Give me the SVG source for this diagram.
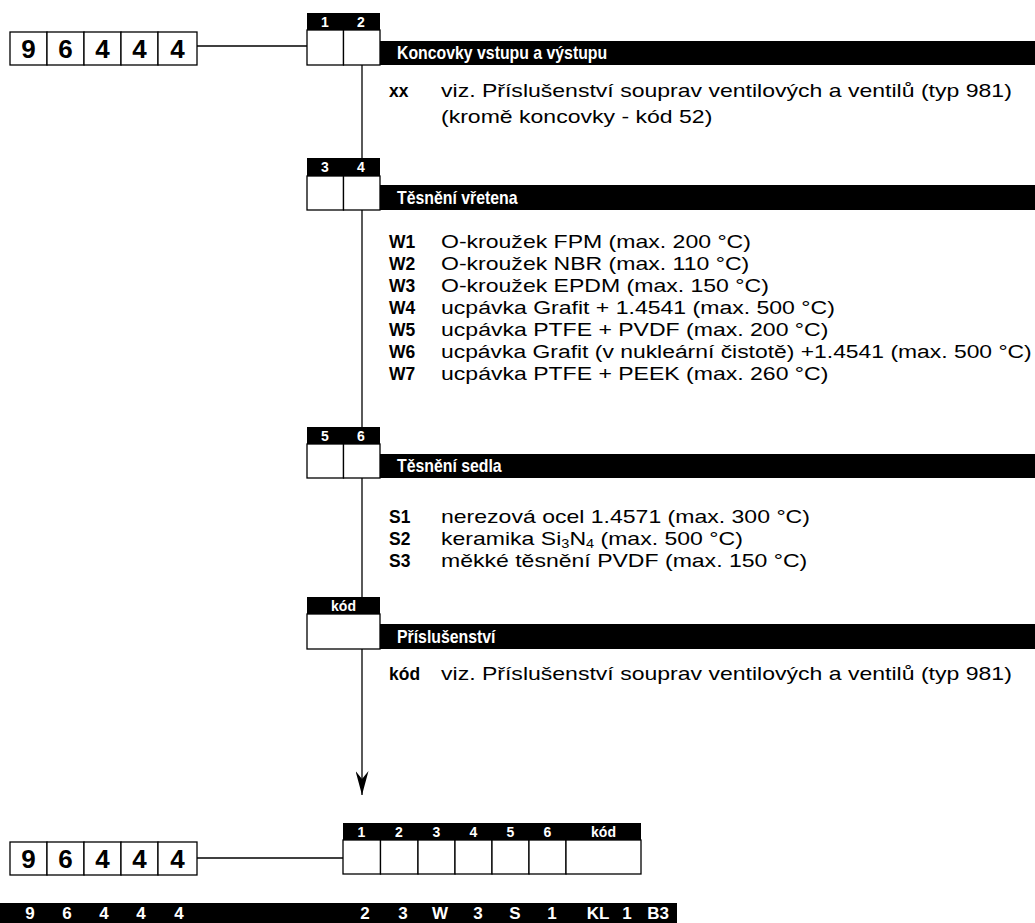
<svg xmlns="http://www.w3.org/2000/svg" width="1035" height="923" viewBox="0 0 1035 923">
<style>
.cell{fill:#fff;stroke:#000;stroke-width:1.3}
.blk{fill:#000}
.hd{font-family:"Liberation Sans",Arial,sans-serif;font-weight:bold;font-size:14px;fill:#fff;text-anchor:middle}
.big{font-family:"Liberation Sans",Arial,sans-serif;font-weight:bold;font-size:26px;fill:#000;text-anchor:middle}
.title{font-family:"Liberation Sans",Arial,sans-serif;font-weight:bold;font-size:18px;fill:#fff}
.code{font-family:"Liberation Sans",Arial,sans-serif;font-weight:bold;font-size:19px;fill:#000}
.desc{font-family:"Liberation Sans",Arial,sans-serif;font-size:19px;fill:#000}
.bar{font-family:"Liberation Sans",Arial,sans-serif;font-weight:bold;font-size:17px;fill:#fff;text-anchor:middle}
.ln{stroke:#000;stroke-width:1.3;fill:none}
</style>
<defs>
<marker id="arr" markerUnits="userSpaceOnUse" markerWidth="24" markerHeight="13" refX="24" refY="6.5" orient="auto" viewBox="0 0 24 13">
<path d="M0,0 L8,6.5 L0,13 L24,6.5 Z" fill="#000"/>
</marker>
</defs>

<g id="connectors">
<line class="ln" x1="197" y1="46" x2="307" y2="46"/>
<line class="ln" x1="362" y1="65" x2="362" y2="795" marker-end="url(#arr)"/>
<line class="ln" x1="197" y1="858" x2="343" y2="858"/>
</g>

<g id="code-top">
<rect class="cell" x="10" y="32" width="37" height="33"/>
<rect class="cell" x="47" y="32" width="37" height="33"/>
<rect class="cell" x="84" y="32" width="37" height="33"/>
<rect class="cell" x="121" y="32" width="37" height="33"/>
<rect class="cell" x="158" y="32" width="39" height="33"/>
<text class="big" x="28.5" y="58">9</text>
<text class="big" x="65.5" y="58">6</text>
<text class="big" x="102.5" y="58">4</text>
<text class="big" x="139.5" y="58">4</text>
<text class="big" x="177.5" y="58">4</text>
</g>

<g id="sec1">
<rect class="blk" x="307" y="13" width="73" height="17"/>
<text class="hd" x="325" y="27">1</text>
<text class="hd" x="361" y="27">2</text>
<rect class="cell" x="307" y="30" width="36.5" height="35"/>
<rect class="cell" x="343.5" y="30" width="36.5" height="35"/>
<rect class="blk" x="380" y="41" width="655" height="24"/>
<text class="title" transform="translate(397,59) scale(0.88,1)">Koncovky vstupu a výstupu</text>
<text class="code" transform="translate(389,97) scale(0.92,1)">xx</text>
<text class="desc" transform="translate(441,97) scale(1.212,1)">viz. Příslušenství souprav ventilových a ventilů (typ 981)</text>
<text class="desc" transform="translate(441,123) scale(1.212,1)">(kromě koncovky - kód 52)</text>
</g>

<g id="sec2">
<rect class="blk" x="307" y="158" width="73" height="18"/>
<text class="hd" x="325" y="172">3</text>
<text class="hd" x="361" y="172">4</text>
<rect class="cell" x="307" y="176" width="36.5" height="34"/>
<rect class="cell" x="343.5" y="176" width="36.5" height="34"/>
<rect class="blk" x="380" y="185" width="655" height="25"/>
<text class="title" transform="translate(397,204) scale(0.88,1)">Těsnění vřetena</text>
<text class="code" transform="translate(389,248) scale(0.92,1)">W1</text><text class="desc" transform="translate(441,248) scale(1.212,1)">O-kroužek FPM (max. 200 °C)</text>
<text class="code" transform="translate(389,270) scale(0.92,1)">W2</text><text class="desc" transform="translate(441,270) scale(1.212,1)">O-kroužek NBR (max. 110 °C)</text>
<text class="code" transform="translate(389,292) scale(0.92,1)">W3</text><text class="desc" transform="translate(441,292) scale(1.212,1)">O-kroužek EPDM (max. 150 °C)</text>
<text class="code" transform="translate(389,314) scale(0.92,1)">W4</text><text class="desc" transform="translate(441,314) scale(1.212,1)">ucpávka Grafit + 1.4541 (max. 500 °C)</text>
<text class="code" transform="translate(389,336) scale(0.92,1)">W5</text><text class="desc" transform="translate(441,336) scale(1.212,1)">ucpávka PTFE + PVDF (max. 200 °C)</text>
<text class="code" transform="translate(389,358) scale(0.92,1)">W6</text><text class="desc" transform="translate(441,358) scale(1.205,1)">ucpávka Grafit (v nukleární čistotě) +1.4541 (max. 500 °C)</text>
<text class="code" transform="translate(389,380) scale(0.92,1)">W7</text><text class="desc" transform="translate(441,380) scale(1.212,1)">ucpávka PTFE + PEEK (max. 260 °C)</text>
</g>

<g id="sec3">
<rect class="blk" x="307" y="427" width="73" height="17"/>
<text class="hd" x="325" y="441">5</text>
<text class="hd" x="361" y="441">6</text>
<rect class="cell" x="307" y="444" width="36.5" height="34"/>
<rect class="cell" x="343.5" y="444" width="36.5" height="34"/>
<rect class="blk" x="380" y="454" width="655" height="24"/>
<text class="title" transform="translate(397,472) scale(0.88,1)">Těsnění sedla</text>
<text class="code" transform="translate(389,523) scale(0.92,1)">S1</text><text class="desc" transform="translate(441,523) scale(1.212,1)">nerezová ocel 1.4571 (max. 300 °C)</text>
<text class="code" transform="translate(389,545) scale(0.92,1)">S2</text><text class="desc" transform="translate(441,545) scale(1.212,1)">keramika Si<tspan font-size="12" dy="3">3</tspan><tspan dy="-3">N</tspan><tspan font-size="12" dy="3">4</tspan><tspan dy="-3"> (max. 500 °C)</tspan></text>
<text class="code" transform="translate(389,567) scale(0.92,1)">S3</text><text class="desc" transform="translate(441,567) scale(1.212,1)">měkké těsnění PVDF (max. 150 °C)</text>
</g>

<g id="sec4">
<rect class="blk" x="307" y="597" width="73" height="17"/>
<text class="hd" x="343.5" y="611">kód</text>
<rect class="cell" x="307" y="614" width="73" height="35"/>
<rect class="blk" x="380" y="624" width="655" height="25"/>
<text class="title" transform="translate(397,643) scale(0.88,1)">Příslušenství</text>
<text class="code" transform="translate(389,680) scale(0.92,1)">kód</text><text class="desc" transform="translate(441,680) scale(1.212,1)">viz. Příslušenství souprav ventilových a ventilů (typ 981)</text>
</g>

<g id="code-bottom-left">
<rect class="cell" x="10" y="842" width="37" height="33"/>
<rect class="cell" x="47" y="842" width="37" height="33"/>
<rect class="cell" x="84" y="842" width="37" height="33"/>
<rect class="cell" x="121" y="842" width="37" height="33"/>
<rect class="cell" x="158" y="842" width="39" height="33"/>
<text class="big" x="28.5" y="868">9</text>
<text class="big" x="65.5" y="868">6</text>
<text class="big" x="102.5" y="868">4</text>
<text class="big" x="139.5" y="868">4</text>
<text class="big" x="177.5" y="868">4</text>
</g>

<g id="code-bottom-right">
<rect class="blk" x="343" y="823" width="298" height="17"/>
<text class="hd" x="361.5" y="837">1</text>
<text class="hd" x="399" y="837">2</text>
<text class="hd" x="436.5" y="837">3</text>
<text class="hd" x="473.5" y="837">4</text>
<text class="hd" x="510.5" y="837">5</text>
<text class="hd" x="547.5" y="837">6</text>
<text class="hd" x="603.5" y="837">kód</text>
<rect class="cell" x="343" y="840" width="37.5" height="34"/>
<rect class="cell" x="380.5" y="840" width="37.5" height="34"/>
<rect class="cell" x="418" y="840" width="37" height="34"/>
<rect class="cell" x="455" y="840" width="37" height="34"/>
<rect class="cell" x="492" y="840" width="37" height="34"/>
<rect class="cell" x="529" y="840" width="37" height="34"/>
<rect class="cell" x="566" y="840" width="75" height="34"/>
</g>

<g id="example-bar">
<rect class="blk" x="0" y="903" width="677" height="20"/>
<text class="bar" x="30" y="919">9</text>
<text class="bar" x="67" y="919">6</text>
<text class="bar" x="104" y="919">4</text>
<text class="bar" x="141" y="919">4</text>
<text class="bar" x="179" y="919">4</text>
<text class="bar" x="365" y="919">2</text>
<text class="bar" x="403" y="919">3</text>
<text class="bar" x="440" y="919">W</text>
<text class="bar" x="478" y="919">3</text>
<text class="bar" x="515" y="919">S</text>
<text class="bar" x="552" y="919">1</text>
<text class="bar" x="598" y="919">KL</text>
<text class="bar" x="627" y="919">1</text>
<text class="bar" x="658" y="919">B3</text>
</g>
</svg>
